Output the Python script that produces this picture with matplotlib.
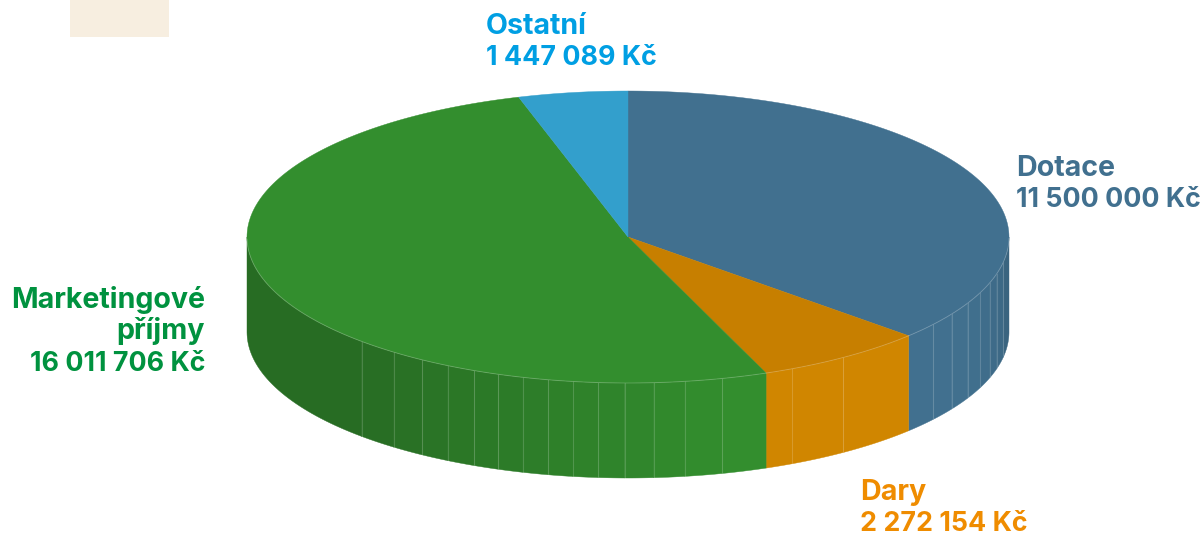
import numpy as np
import matplotlib
matplotlib.use("Agg")
import matplotlib.pyplot as plt
from matplotlib.patches import Polygon, Rectangle

# clockwise from 12 o'clock
names = ["Dotace", "Dary", "Marketingové\npříjmy", "Ostatní"]
values = [11500000, 2272154, 16011706, 1447089]
top_colors = ["#41708f", "#c77f00", "#338e2e", "#339fcc"]
side_colors = ["#41708f", "#d08600", "#338e2e", "#339fcc"]
text_colors = ["#41708f", "#ef8c00", "#00923f", "#009fe3"]

# facet seams on the rim, degrees clockwise from top
seams = [100, 104.5, 108.2, 112.5, 116.9, 121.8, 126.8, 145.6, 154.5,
         165.7, 171.4, 176.1, 180.5, 184.5, 188.3, 192.1, 196, 199.9,
         203.8, 208.2, 212.7, 217.9, 224.3]

# layout in pixels
cx, cy = 628, 237
rx, ry = 381, 146
depth = 95
label_x = [1016, 860, 205, 486]
label_y = [176, 500, 308, 34]
label_ha = ["left", "left", "right", "left"]
line_h = 31.3

def rim(a):
    a = np.radians(a)
    return cx + rx * np.sin(a), cy - ry * np.cos(a)

def shade(color, a):
    # darker toward the left edge and a touch at the right edge
    c = np.array(matplotlib.colors.to_rgb(color))
    if a > 165:
        f = 1 - 0.24 * min((a - 165) / 60, 1)
    elif a < 125:
        f = 1 - 0.15 * ((125 - a) / 35) ** 2
    else:
        f = 1
    return c * f

fig = plt.figure(figsize=(12.04, 5.35), dpi=100)
ax = fig.add_axes([0, 0, 1, 1])
ax.set_xlim(0, 1204)
ax.set_ylim(535, 0)
ax.axis("off")

ax.add_patch(Rectangle((70, 0), 99, 37, fc="#f7eee0", ec="none"))

edges = np.concatenate([[0], np.cumsum(values) / np.sum(values) * 360])

# side wall
for i in range(len(values)):
    lo, hi = edges[i], edges[i + 1]
    if hi <= 90 or lo >= 270:
        continue
    lo, hi = max(lo, 90), min(hi, 270)
    inner = [s for s in seams if lo < s < hi]
    stops = [lo] + inner + [hi]
    for a0, a1 in zip(stops[:-1], stops[1:]):
        t = np.linspace(a0, a1, 40)
        x, y = rim(t)
        pts = np.r_[np.c_[x, y], np.c_[x[::-1], y[::-1] + depth]]
        col = shade(side_colors[i], (a0 + a1) / 2)
        ax.add_patch(Polygon(pts, fc=col, ec=col, lw=0.3, zorder=2))
    for s in inner:
        x, y = rim(s)
        ax.plot([x, x], [y, y + depth], color="white", alpha=0.17, lw=0.8, zorder=3)

# top face
for i in range(len(values)):
    t = np.linspace(edges[i], edges[i + 1], 200)
    x, y = rim(t)
    pts = np.r_[[[cx, cy]], np.c_[x, y]]
    ax.add_patch(Polygon(pts, fc=top_colors[i], ec=top_colors[i], lw=0.3, zorder=4))
    front = t[(t > 90) & (t < 270)]
    if len(front):
        x, y = rim(front)
        ax.plot(x, y, color="white", alpha=0.2, lw=0.7, zorder=5)

# labels, name lines set a bit larger since Inter runs narrower than the original face
for i in range(len(values)):
    amount = f"{values[i]:,}".replace(",", " ") + " Kč"
    y = label_y[i]
    for line in names[i].split("\n"):
        ax.text(label_x[i], y, line, color=text_colors[i], ha=label_ha[i], va="baseline",
                family="Inter", fontweight="bold", fontsize=20.6, zorder=6)
        y += line_h
    ax.text(label_x[i], y, amount, color=text_colors[i], ha=label_ha[i], va="baseline",
            family="Inter", fontweight="bold", fontsize=19.3, zorder=6)

fig.savefig("out.png", dpi=100)
